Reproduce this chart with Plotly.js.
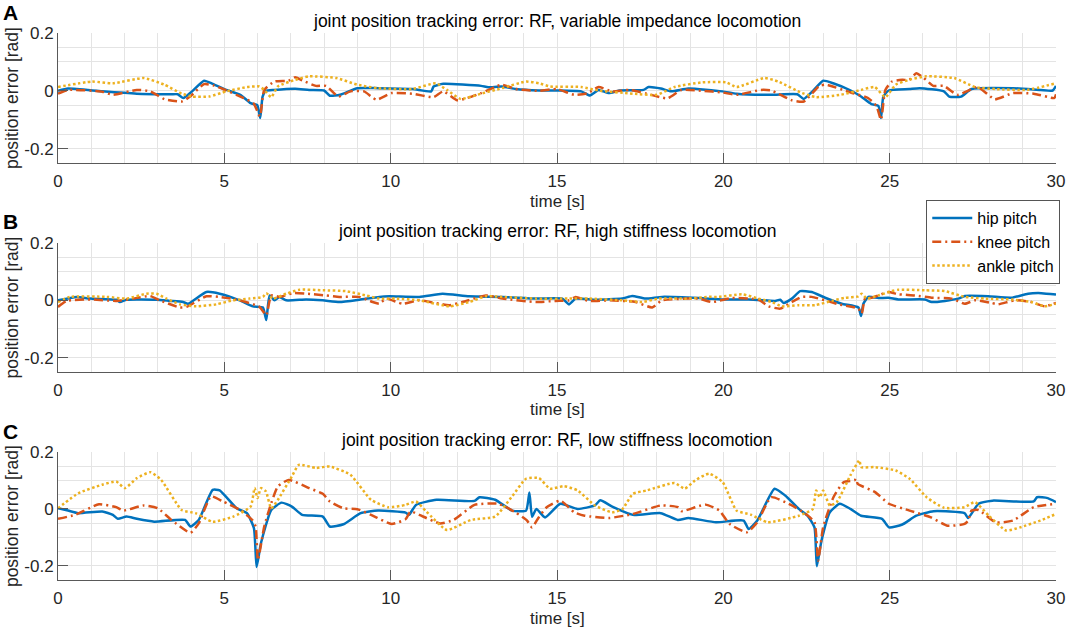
<!DOCTYPE html>
<html>
<head>
<meta charset="utf-8">
<script src="https://cdn.plot.ly/plotly-3.0.1.min.js"></script>
<style>
  html, body { margin: 0; padding: 0; background: #ffffff; }
  #chart { width: 1072px; height: 634px; }
</style>
</head>
<body>
<div id="chart"></div>
<script>
// 読み取り値: [時刻 s, 誤差 rad] の組。ピーク・谷・折れ点を拾って並べたもの。
const panelLetters = ["A", "B", "C"]
const panelTitles = [
  "joint position tracking error: RF, variable impedance locomotion",
  "joint position tracking error: RF, high stiffness locomotion",
  "joint position tracking error: RF, low stiffness locomotion"
]
const jointNames = ["hip pitch", "knee pitch", "ankle pitch"]
const xTicks = [0, 5, 10, 15, 20, 25, 30]
const yTicks = [-0.2, 0, 0.2]

// --- A: variable impedance ---
const hipA = [[0,0.0],[0.3,0.008],[1.33,-0.002],[2.37,-0.01],[3.4,-0.012],[3.6,-0.012],[3.77,-0.025],[4.03,-0.002],[4.39,0.035],[4.65,0.024],[5.06,0.003],[5.48,-0.014],[5.79,-0.043],[5.99,-0.05],[6.08,-0.094],[6.15,-0.02],[6.25,0.0],[6.5,0.003],[7.13,0.007],[7.55,0.003],[8.0,0.001],[8.17,-0.017],[8.48,-0.014],[9.0,0.009],[9.62,0.009],[10.65,0.006],[11.22,-0.002],[11.29,0.015],[11.58,0.024],[12.72,0.017],[12.93,0.012],[13.34,0.015],[13.76,0.006],[14.46,0.001],[15.0,0.001],[15.73,-0.002],[15.99,-0.016],[16.25,0.003],[16.56,-0.008],[16.87,0.001],[17.6,0.003],[17.75,0.013],[18.12,0.008],[18.43,-0.002],[18.95,0.008],[19.98,-0.002],[20.4,-0.01],[21.44,-0.014],[22.22,-0.012],[22.42,-0.028],[22.68,-0.002],[23.0,0.035],[23.3,0.026],[23.83,0.001],[24.14,-0.02],[24.45,-0.046],[24.66,-0.052],[24.74,-0.094],[24.81,-0.02],[24.97,0.001],[25.59,0.006],[25.9,0.009],[26.63,-0.002],[26.79,-0.02],[27.15,-0.02],[27.46,0.006],[28.71,0.009],[29.54,0.003],[29.9,0.001],[30,0.017]]
const kneeA = [[0,-0.01],[0.3,0.003],[1.33,-0.003],[1.65,-0.014],[2.37,0.003],[2.78,-0.002],[3.2,-0.029],[3.72,-0.037],[3.97,-0.02],[4.39,0.023],[4.7,0.018],[5.06,0.001],[5.58,-0.025],[5.89,-0.045],[6.07,-0.089],[6.2,0.003],[6.51,0.032],[6.93,0.035],[7.13,0.047],[7.34,0.036],[7.75,0.017],[8.06,0.017],[8.43,-0.02],[8.79,-0.002],[9.2,-0.002],[9.57,-0.031],[10.03,-0.008],[10.65,-0.01],[11.29,-0.022],[11.58,-0.002],[12.0,-0.033],[12.3,-0.025],[12.72,-0.008],[13.34,0.021],[13.76,0.006],[14.46,0],[15,0.006],[15.52,-0.014],[15.93,-0.008],[16.25,0.013],[16.66,-0.002],[17.18,0.003],[17.7,-0.01],[18.32,-0.026],[18.74,0.003],[19.36,0],[19.98,-0.006],[20.4,-0.014],[21.13,0.003],[21.44,0.001],[22.06,-0.033],[22.42,-0.037],[22.89,0.017],[23.1,0.021],[23.83,-0.006],[24.35,-0.025],[24.6,-0.052],[24.74,-0.1],[24.87,0.003],[25.07,0.032],[25.38,0.038],[25.59,0.038],[25.8,0.061],[26.0,0.047],[26.31,0.017],[26.63,0.017],[27.04,-0.014],[27.64,0.013],[28.16,-0.029],[28.71,-0.008],[29.33,-0.01],[29.95,-0.025],[30,-0.012]]
const ankleA = [[0,0.013],[1.02,0.032],[1.65,0.026],[2.58,0.044],[3.2,0.021],[3.72,-0.01],[4.03,-0.02],[4.54,-0.02],[5.06,-0.002],[5.68,0.013],[6.05,0.015],[6.2,0.003],[6.41,-0.022],[6.61,0.015],[7.13,0.038],[7.55,0.05],[8.37,0.044],[9.0,0.021],[9.62,0.009],[10.65,0.006],[11.36,0.026],[11.69,0.003],[12.1,-0.028],[12.72,-0.01],[13.34,0.009],[14.07,0.032],[14.46,0.026],[14.79,0.015],[15.73,0.013],[16.25,0.001],[17.28,-0.01],[18.0,-0.014],[18.53,0.013],[19.36,0.029],[20.09,0.029],[20.4,0.013],[21.23,0.044],[21.65,0.032],[22.37,-0.008],[22.79,-0.022],[23.52,-0.014],[24.14,0.003],[24.55,0.013],[24.87,-0.022],[25.18,0.021],[25.59,0.038],[26.11,0.05],[26.94,0.044],[27.56,0.013],[28.19,0.006],[29.13,0.003],[30,0.026]]

// --- B: high stiffness ---
const hipB = [[0,0],[0.56,0.012],[0.96,0.006],[1.76,0.002],[1.86,-0.006],[2.06,0.002],[2.96,0.002],[3.36,-0.002],[3.76,-0.006],[3.91,-0.012],[4.46,0.029],[4.86,0.023],[5.46,0],[5.86,-0.021],[6.16,-0.025],[6.26,-0.069],[6.36,0.017],[6.51,0],[6.66,0.012],[6.86,0],[7.46,0.003],[7.96,0],[8.46,-0.006],[9.06,0.002],[9.66,0.012],[9.96,0.014],[10.86,0.012],[11.56,0.023],[12.36,0.014],[13.36,0.012],[14.36,0.006],[15.16,0.006],[15.36,-0.014],[15.56,0.006],[16.16,0.002],[16.96,0.006],[17.26,0.015],[17.66,0.006],[18.16,0.012],[19.26,0.008],[20.0,0.003],[20.76,0.003],[21.26,0],[21.56,-0.002],[21.71,0.002],[21.81,-0.009],[22.06,0.006],[22.31,0.032],[22.66,0.029],[23.06,0.009],[23.56,-0.012],[24.06,-0.025],[24.14,-0.055],[24.21,-0.012],[24.36,0.012],[24.66,0.008],[24.96,0.009],[25.26,0.003],[26.06,0.003],[26.26,-0.006],[26.66,-0.002],[27.06,0.006],[27.26,0.015],[27.96,0.014],[28.66,0.009],[29.16,0.023],[29.56,0.025],[30,0.02]]
const kneeB = [[0,-0.023],[0.26,-0.002],[0.96,0.003],[1.76,-0.002],[2.26,0.006],[2.76,0.015],[3.06,0],[3.66,-0.025],[3.86,-0.023],[4.46,0.014],[4.86,0.012],[5.46,0],[6.06,-0.023],[6.26,-0.052],[6.41,0.017],[6.66,0.012],[7.06,0.025],[7.46,0.023],[8.06,0.017],[8.46,0.012],[9.06,0.012],[9.46,-0.006],[9.66,-0.012],[9.86,0.006],[10.36,-0.012],[10.86,0],[11.76,-0.017],[12.16,-0.006],[12.86,0.017],[13.36,0.006],[14.36,-0.006],[14.96,-0.002],[15.36,0],[15.56,0.012],[15.96,-0.002],[16.56,0],[17.36,-0.006],[17.86,-0.025],[18.16,0],[18.96,0.006],[19.26,0.006],[19.66,-0.006],[20.26,0.008],[21.06,0.002],[21.36,-0.021],[21.71,-0.029],[22.06,-0.006],[22.36,0.012],[22.66,0.012],[23.06,0],[23.46,-0.014],[24.06,-0.029],[24.16,-0.046],[24.26,0.006],[24.46,0.009],[24.66,0.017],[24.96,0.029],[25.26,0.021],[25.76,0.017],[26.26,0.009],[26.86,0.006],[27.26,-0.012],[27.56,0],[28.06,-0.009],[28.26,-0.014],[28.76,0],[29.26,-0.006],[29.66,-0.021],[30,-0.009]]
const ankleB = [[0,-0.006],[0.36,0.012],[1.46,0.012],[2.06,0.006],[2.66,0.023],[2.96,0.023],[3.26,0.006],[3.66,-0.014],[4.16,-0.021],[4.76,-0.014],[5.26,0],[5.76,0.006],[6.16,0.012],[6.26,0.025],[6.46,0.006],[6.86,0.023],[7.26,0.037],[7.96,0.035],[8.66,0.032],[9.26,0.017],[9.66,0.006],[10.16,0.006],[10.86,0],[11.76,-0.021],[12.36,-0.006],[12.86,0.014],[13.36,0.012],[14.36,0.006],[15.36,0.006],[15.96,0.006],[16.96,0],[17.56,-0.006],[18.06,0.006],[18.96,0.006],[19.56,0.012],[19.86,0.012],[20.56,0.021],[21.06,0.006],[21.46,-0.006],[21.76,-0.021],[22.26,-0.017],[22.76,-0.017],[23.26,-0.002],[23.66,0.009],[24.06,0.014],[24.16,0.023],[24.31,0.006],[24.66,0.017],[25.06,0.032],[25.26,0.037],[26.06,0.035],[26.66,0.032],[27.26,0.012],[27.86,0.006],[28.66,0.003],[29.26,-0.006],[29.66,-0.021],[30,-0.012]]

// --- C: low stiffness ---
const hipC = [[0,0.002],[0.3,-0.006],[0.61,-0.015],[1.33,-0.009],[1.65,-0.021],[1.8,-0.035],[2.06,-0.027],[2.37,-0.035],[2.89,-0.045],[3.82,-0.039],[3.98,-0.062],[4.23,-0.039],[4.65,0.067],[4.86,0.065],[5.37,0.002],[5.68,-0.015],[5.89,-0.068],[5.97,-0.204],[6.1,-0.121],[6.41,-0.004],[6.72,0.022],[7.03,0.008],[7.34,-0.021],[7.96,-0.027],[8.17,-0.062],[8.58,-0.054],[9.1,-0.015],[9.62,-0.006],[10.45,-0.013],[10.55,-0.021],[10.76,0.014],[11.38,0.032],[12.52,0.028],[12.67,0.041],[13.14,0.032],[13.65,-0.006],[14.07,-0.006],[14.17,0.058],[14.25,-0.028],[14.38,0],[14.64,-0.03],[15.1,0.018],[15.62,0],[16.14,0.012],[16.3,0.03],[16.66,0.008],[17.28,-0.021],[18.12,-0.015],[18.63,-0.039],[18.95,-0.032],[19.78,-0.047],[20.61,-0.041],[20.76,-0.071],[21.02,-0.041],[21.54,0.071],[21.86,0.047],[22.27,0],[22.53,-0.024],[22.74,-0.065],[22.81,-0.202],[22.95,-0.112],[23.2,-0.012],[23.5,0.018],[23.82,0],[24.14,-0.024],[24.77,-0.035],[24.98,-0.065],[25.38,-0.055],[25.8,-0.024],[26.32,-0.008],[27.25,-0.015],[27.36,-0.032],[27.67,0.018],[28.09,0.029],[29.33,0.026],[29.43,0.041],[29.75,0.038],[30,0.024]]
const kneeC = [[0,-0.035],[0.51,-0.021],[1.23,0.016],[1.75,0.006],[1.96,-0.006],[2.58,0.012],[3.0,0.002],[3.41,-0.039],[3.98,-0.084],[4.23,-0.051],[4.6,0.044],[4.96,0.026],[5.48,-0.004],[5.84,-0.039],[5.94,-0.062],[6.01,-0.18],[6.2,-0.062],[6.41,0.02],[6.61,0.079],[6.93,0.102],[7.55,0.073],[7.96,0.053],[8.17,0.026],[8.58,0.002],[9.0,-0.001],[9.41,-0.021],[10.03,-0.053],[10.45,-0.036],[10.6,-0.009],[10.86,-0.021],[11.48,-0.051],[11.89,-0.039],[12.52,0.014],[13.24,0.018],[13.76,-0.013],[14.1,-0.041],[14.25,-0.065],[14.45,-0.03],[14.69,0.006],[15.1,0.029],[15.52,-0.012],[15.83,-0.024],[16.56,-0.032],[17.28,-0.018],[18.12,0.012],[18.63,0.006],[18.74,-0.008],[19.46,0.015],[19.88,-0.006],[20.19,-0.053],[20.71,-0.082],[21.02,-0.047],[21.44,0.041],[22.06,0.012],[22.48,-0.018],[22.74,-0.047],[22.85,-0.182],[23.0,-0.065],[23.31,0.041],[23.62,0.094],[23.94,0.1],[23.99,0.106],[24.04,0.088],[24.56,0.059],[24.98,0.018],[25.6,-0.006],[26.22,-0.029],[26.74,-0.059],[27.25,-0.053],[27.36,-0.041],[27.46,-0.006],[27.67,-0.004],[28.19,-0.047],[28.71,-0.041],[29.33,0.006],[30,0.018]]
const ankleC = [[0,0.002],[0.61,0.055],[1.33,0.085],[1.75,0.096],[2.01,0.073],[2.37,0.108],[2.78,0.129],[3.1,0.102],[3.72,-0.004],[4.13,-0.015],[4.65,-0.045],[5.27,-0.027],[5.79,0.008],[5.91,0.073],[6.0,0.038],[6.1,0.073],[6.25,0.061],[6.41,0.002],[6.61,0.032],[7.03,0.114],[7.24,0.155],[7.75,0.144],[8.17,0.149],[8.79,0.12],[9.41,0.032],[9.93,0.006],[10.45,0.014],[10.76,0.026],[11.07,-0.009],[11.69,-0.074],[12.41,-0.039],[13.14,-0.027],[13.65,0.044],[14.07,0.106],[14.46,0.108],[14.79,0.071],[15.21,0.08],[15.62,0.065],[16.14,0.012],[16.66,-0.012],[16.97,0],[17.28,0.053],[17.7,0.065],[18.53,0.091],[18.84,0.071],[19.15,0.1],[19.57,0.124],[19.98,0.094],[20.4,-0.006],[20.82,-0.02],[21.33,-0.047],[22.27,-0.024],[22.69,0],[22.79,0.065],[22.9,0.041],[23.0,0.065],[23.2,0.012],[23.41,0.024],[23.82,0.118],[24.09,0.171],[24.14,0.147],[24.56,0.147],[25.18,0.135],[25.6,0.106],[26.11,0.041],[26.63,0.004],[27.25,0.006],[27.56,0.024],[27.98,-0.024],[28.5,-0.076],[28.92,-0.065],[29.53,-0.041],[30,-0.018]]

const panels = [[hipA, kneeA, ankleA], [hipB, kneeB, ankleB], [hipC, kneeC, ankleC]]

// MATLAB 既定の色順と線種(実線 / 一点鎖線 / 点線)
const lineStyles = [
  { color: "#0072BD", width: 2.5, dash: "solid", shape: "spline", smoothing: 0.5 },
  { color: "#D95319", width: 2.5, dash: "9px,4px,2px,4px", shape: "spline", smoothing: 0.5 },
  { color: "#EDB120", width: 2.5, dash: "2.5px,2.5px", shape: "spline", smoothing: 0.5 }
]

// 画面上の描画域(紙座標)。上から A, B, C
const domains = [[0.7623, 1.0], [0.3803, 0.6161], [0.0, 0.234]]

const FONT = "'Liberation Sans', Arial, Helvetica, sans-serif"
const INK = "#262626"
const GRID = "#e4e4e4"
const AXIS = "#595959"

const traces = []
panels.forEach((series, p) => {
  const suffix = p === 0 ? "" : String(p + 1)
  series.forEach((points, j) => {
    traces.push({
      type: "scatter",
      mode: "lines",
      x: points.map((pt) => pt[0]),
      y: points.map((pt) => pt[1]),
      xaxis: "x" + suffix,
      yaxis: "y" + suffix,
      name: jointNames[j],
      legendgroup: jointNames[j],
      showlegend: p === 1,
      line: lineStyles[j],
      hoverinfo: "skip"
    })
  })
})

function xAxis(p) {
  return {
    domain: [0, 1],
    anchor: p === 0 ? "y" : "y" + (p + 1),
    range: [0, 30],
    tickvals: xTicks,
    ticks: "inside",
    ticklen: 10,
    tickcolor: AXIS,
    showline: true,
    linecolor: AXIS,
    linewidth: 1,
    showgrid: true,
    gridcolor: GRID,
    zeroline: false,
    minor: { dtick: 1, showgrid: true, gridcolor: GRID, ticks: "" },
    tickfont: { family: FONT, size: 17, color: INK },
    ticklabelstandoff: 3,
    fixedrange: true
  }
}

function yAxis(p) {
  return {
    domain: domains[p],
    anchor: p === 0 ? "x" : "x" + (p + 1),
    range: [-0.25, 0.2],
    tickvals: yTicks,
    ticktext: ["-0.2", "0", "0.2"],
    ticks: "inside",
    ticklen: 10,
    tickcolor: AXIS,
    showline: true,
    linecolor: AXIS,
    linewidth: 1,
    showgrid: true,
    gridcolor: GRID,
    zeroline: false,
    minor: { dtick: 0.05, showgrid: true, gridcolor: GRID, ticks: "" },
    tickfont: { family: FONT, size: 17, color: INK },
    fixedrange: true
  }
}

const annotations = []
panels.forEach((_, p) => {
  const [bottom, top] = domains[p]
  annotations.push({
    text: panelTitles[p], xref: "paper", yref: "paper", x: 0.5, y: top,
    xanchor: "center", yanchor: "bottom", yshift: 0, showarrow: false,
    font: { family: FONT, size: 17.5, color: "#000000" }
  })
  annotations.push({
    text: "time [s]", xref: "paper", yref: "paper", x: 0.5, y: bottom,
    xanchor: "center", yanchor: "middle", yshift: -38, showarrow: false,
    font: { family: FONT, size: 17, color: INK }
  })
  annotations.push({
    text: "position error [rad]", xref: "paper", yref: "paper", x: -0.046, y: (bottom + top) / 2,
    xanchor: "center", yanchor: "middle", textangle: -90, showarrow: false,
    font: { family: FONT, size: 17.5, color: INK }
  })
  annotations.push({
    text: "<b>" + panelLetters[p] + "</b>", xref: "paper", yref: "paper", x: -0.048, y: top,
    xanchor: "center", yanchor: "middle", yshift: 21, showarrow: false,
    font: { family: FONT, size: 21, color: "#000000" }
  })
})

const layout = {
  width: 1072,
  height: 634,
  margin: { l: 58, r: 14, t: 33, b: 54 },
  paper_bgcolor: "#ffffff",
  plot_bgcolor: "#ffffff",
  font: { family: FONT, size: 15, color: INK },
  showlegend: true,
  legend: {
    x: 0.87, y: 0.6947, xanchor: "left", yanchor: "top",
    bgcolor: "#ffffff", bordercolor: "#555555", borderwidth: 1,
    font: { family: FONT, size: 16, color: "#000000" },
    tracegroupgap: 0, itemwidth: 40
  },
  annotations: annotations,
  xaxis: xAxis(0), yaxis: yAxis(0),
  xaxis2: xAxis(1), yaxis2: yAxis(1),
  xaxis3: xAxis(2), yaxis3: yAxis(2)
}

Plotly.newPlot("chart", traces, layout, { displayModeBar: false, staticPlot: true })
</script>
</body>
</html>
